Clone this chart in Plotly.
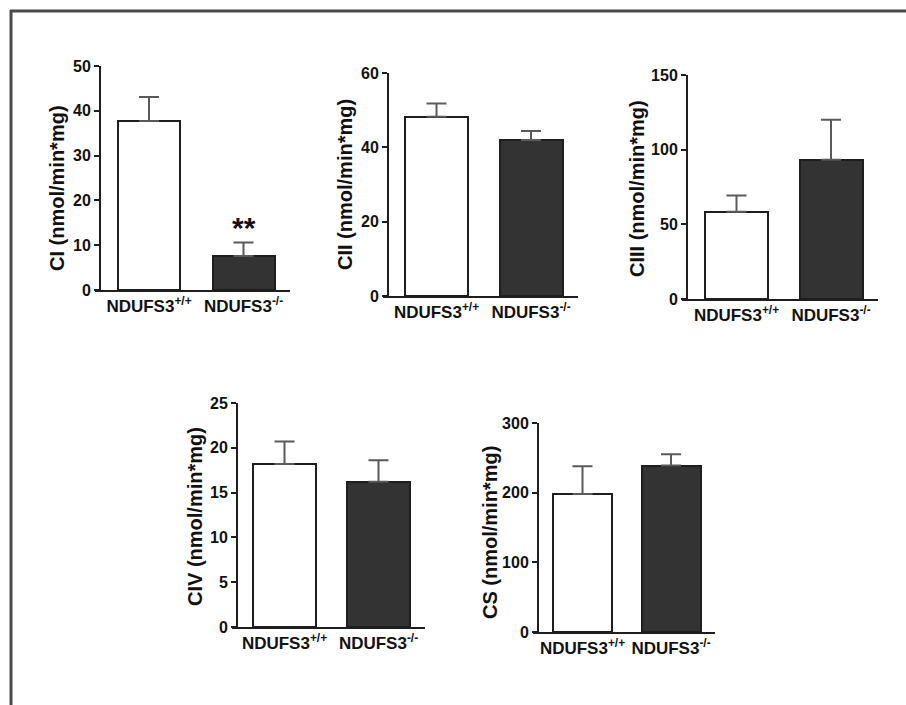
import plotly.graph_objects as go

W, H = 906, 705

# ---------------- data ----------------
categories = ["NDUFS3<sup>+/+</sup>", "NDUFS3<sup>-/-</sup>"]
panel_names = ["CI", "CII", "CIII", "CIV", "CS"]
unit = " (nmol/min*mg)"

ci_mean = [37.7, 7.6]
ci_sem = [5.4, 3.0]
cii_mean = [48.2, 42.0]
cii_sem = [3.6, 2.4]
ciii_mean = [58.5, 93.3]
ciii_sem = [10.8, 26.7]
civ_mean = [18.2, 16.2]
civ_sem = [2.5, 2.4]
cs_mean = [198, 239]
cs_sem = [40, 16]

y_max = [50, 60, 150, 25, 300]
y_dtick = [10, 20, 50, 5, 100]
significance = ["**", "", "", "", ""]

means = [ci_mean, cii_mean, ciii_mean, civ_mean, cs_mean]
sems = [ci_sem, cii_sem, ciii_sem, civ_sem, cs_sem]

# ---------------- layout geometry (pixels) ----------------
geom = [
    dict(yax=100, xs=95, xe=290, top=66, bot=290, c1=149, c2=243.5, bw=62, tx=57, ty=188),
    dict(yax=388, xs=383, xe=578, top=73, bot=296, c1=436.5, c2=531, bw=63, tx=345, ty=185),
    dict(yax=687, xs=682, xe=878, top=75, bot=299, c1=736.5, c2=831, bw=63, tx=637, ty=189),
    dict(yax=237, xs=232, xe=425, top=403, bot=627, c1=284.5, c2=378.5, bw=63, tx=195, ty=517),
    dict(yax=538, xs=533, xe=715, top=423, bot=632, c1=582.5, c2=671, bw=59, tx=490, ty=533),
]

FONT = "Liberation Sans, Arial, Helvetica, sans-serif"
AX_COL = "#1e1e1e"
fills = ["#ffffff", "#333333"]

fig = go.Figure()
annotations = []
layout_axes = {}

for i, g in enumerate(geom):
    k = "" if i == 0 else str(i + 1)
    xname, yname = "x" + k, "y" + k
    u = 1.0 / (g["c2"] - g["c1"])
    xr = [-(g["c1"] - g["xs"]) * u, 1 + (g["xe"] - g["c2"]) * u]
    bw = g["bw"] * u

    fig.add_trace(go.Bar(
        x=[0, 1], y=means[i],
        width=[bw, bw],
        marker=dict(color=fills, line=dict(color=AX_COL, width=2)),
        error_y=dict(type="data", array=sems[i], arrayminus=[0, 0], symmetric=False,
                     color="#5a5a5a", thickness=2, width=10),
        xaxis=xname, yaxis=yname, showlegend=False, hoverinfo="skip",
    ))

    layout_axes["xaxis" + k] = dict(
        domain=[g["xs"] / W, g["xe"] / W], range=xr, anchor=yname,
        tickmode="array", tickvals=[0, 1], ticktext=categories,
        ticks="", showline=True, linecolor=AX_COL, linewidth=2,
        showgrid=False, zeroline=False, fixedrange=True, automargin=False,
        tickfont=dict(family=FONT, size=17, color="#111111", weight="bold"),
    )
    layout_axes["yaxis" + k] = dict(
        domain=[1 - g["bot"] / H, 1 - g["top"] / H], range=[0, y_max[i]],
        anchor="free", position=g["yax"] / W,
        tickmode="linear", tick0=0, dtick=y_dtick[i],
        ticks="outside", ticklen=5, tickwidth=2, tickcolor=AX_COL,
        showline=True, linecolor=AX_COL, linewidth=2,
        showgrid=False, zeroline=False, fixedrange=True, automargin=False,
        tickfont=dict(family=FONT, size=16, color="#111111", weight="bold"),
    )

    annotations.append(dict(
        text=panel_names[i] + unit, textangle=-90,
        x=g["tx"] / W, y=1 - g["ty"] / H, xref="paper", yref="paper",
        xanchor="center", yanchor="middle", showarrow=False,
        font=dict(family=FONT, size=20, color="#111111", weight="bold"),
    ))
    if significance[i]:
        annotations.append(dict(
            text=significance[i], x=1, y=means[i][1] + sems[i][1],
            xref=xname, yref=yname, xanchor="center", yanchor="bottom",
            yshift=-3, showarrow=False,
            font=dict(family=FONT, size=30, color="#111111", weight="bold"),
        ))

frame_col = "#4a4a4a"
shapes = [
    dict(type="line", xref="paper", yref="paper", x0=10 / W, x1=1.0,
         y0=1 - 11 / H, y1=1 - 11 / H, line=dict(color=frame_col, width=3)),
    dict(type="line", xref="paper", yref="paper", x0=11 / W, x1=11 / W,
         y0=1 - 10 / H, y1=0, line=dict(color=frame_col, width=3)),
]

fig.update_layout(
    template="none",
    width=W, height=H, margin=dict(l=0, r=0, t=0, b=0, pad=0),
    paper_bgcolor="white", plot_bgcolor="rgba(0,0,0,0)",
    annotations=annotations, shapes=shapes, bargap=0,
    font=dict(family=FONT), showlegend=False,
    **layout_axes,
)

fig.write_html("out.html", config={"displayModeBar": False},
               post_script="document.body.style.margin='0px';document.body.style.overflow='hidden';")
